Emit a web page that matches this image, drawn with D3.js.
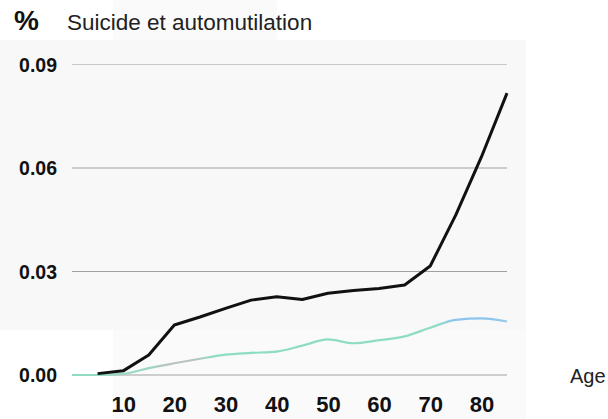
<!DOCTYPE html>
<html><head><meta charset="utf-8">
<script src="https://cdn.jsdelivr.net/npm/d3@7"></script>
<style>body{margin:0;background:#fff}svg{display:block}text{font-family:"Liberation Sans",Arial,sans-serif}</style>
</head><body>
<script>
const ages = [0,5,10,15,20,25,30,35,40,45,50,55,60,65,70,75,80,85];
const seriesBlack = [0,0.0004,0.0012,0.0058,0.0145,0.0168,0.0193,0.0217,0.0227,0.0219,0.0237,0.0245,0.0251,0.0261,0.0316,0.0464,0.0632,0.0817];
const seriesLight = [0,0,0.0003,0.002,0.0034,0.0047,0.0059,0.0064,0.0068,0.0085,0.0103,0.0092,0.0101,0.0112,0.0137,0.016,0.0164,0.0155];
const yTicks = [0,0.03,0.06,0.09];
const xTicks = [10,20,30,40,50,60,70,80];
const title = "Suicide et automutilation";
const unit = "%";
const xLabel = "Age";

const W=608,H=419;
const svg=d3.select("body").append("svg").attr("width",W).attr("height",H);
// subtle scan background panels
svg.append("rect").attr("x",0).attr("y",40).attr("width",526).attr("height",290).attr("fill","#f8f8f8");
svg.append("rect").attr("x",113).attr("y",330).attr("width",413).attr("height",89).attr("fill","#fafafa");
svg.append("rect").attr("x",113).attr("y",0).attr("width",164).attr("height",40).attr("fill","#fafafa");

const x=d3.scaleLinear().domain([0,85]).range([72,507]);
const y=d3.scaleLinear().domain([0,0.09]).range([375,64.5]);

// gridlines
svg.append("g").selectAll("line").data(yTicks).join("line")
  .attr("x1",x(0)).attr("x2",x(85)).attr("y1",d=>y(d)).attr("y2",d=>y(d))
  .attr("stroke",d=>d===0.09?"#c8c8c8":"#a0a0a0").attr("stroke-width",1);

// y axis labels
const yAxis=d3.axisLeft(y).tickValues(yTicks).tickFormat(d3.format(".2f")).tickSize(0).tickPadding(0);
const gy=svg.append("g").attr("transform","translate(57,0)").call(yAxis);
gy.select(".domain").remove();
gy.selectAll("text").attr("font-size",19.5).attr("font-weight","bold").attr("fill","#111").attr("dy","0.35em");

// x axis labels
const xAxis=d3.axisBottom(x).tickValues(xTicks).tickSize(0).tickPadding(0);
const gx=svg.append("g").attr("transform","translate(0,396)").call(xAxis);
gx.select(".domain").remove();
gx.selectAll("text").attr("font-size",22).attr("font-weight","bold").attr("fill","#111").attr("dy","0.71em");

// gradient for light series
const defs=svg.append("defs");
const grad=defs.append("linearGradient").attr("id","lg").attr("gradientUnits","userSpaceOnUse")
  .attr("x1",x(0)).attr("x2",x(85)).attr("y1",0).attr("y2",0);
[[0,"#8edcc4"],[0.18,"#9fd6c6"],[0.22,"#b9c2c0"],[0.28,"#b5c4c0"],[0.33,"#8edcc4"],[0.84,"#8edcc4"],[0.88,"#8cc4ee"],[0.96,"#8cc4ee"],[1,"#9ccbe8"]]
  .forEach(([o,c])=>grad.append("stop").attr("offset",o).attr("stop-color",c));

const lineL=d3.line().x((d,i)=>x(ages[i])).y(d=>y(d)).curve(d3.curveMonotoneX);
svg.append("path").datum(seriesLight).attr("d",lineL).attr("fill","none")
  .attr("stroke","url(#lg)").attr("stroke-width",2.2);

svg.append("path").datum(seriesBlack.slice(1)).attr("d",d3.line().x((d,i)=>x(ages[i+1])).y(d=>y(d)))
  .attr("fill","none").attr("stroke","#111").attr("stroke-width",3).attr("stroke-linejoin","round");

// title
svg.append("text").attr("x",14).attr("y",30).attr("font-size",28).attr("font-weight","bold").attr("fill","#111").text(unit);
svg.append("text").attr("x",67).attr("y",30).attr("font-size",22.5).attr("fill","#222").text(title);
svg.append("text").attr("x",570).attr("y",383).attr("font-size",20).attr("fill","#222").text(xLabel);
</script>
</body></html>
